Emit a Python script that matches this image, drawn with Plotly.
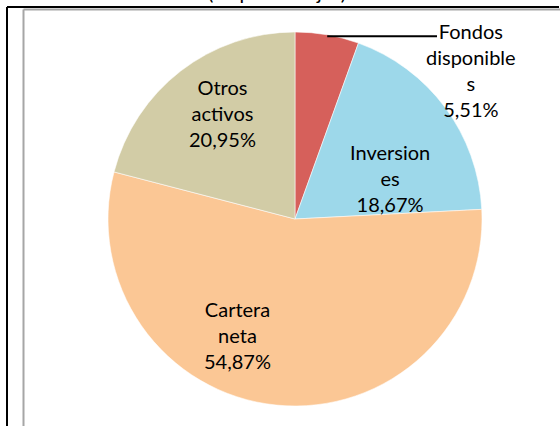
#!/usr/bin/env python3
"""Pie chart of asset composition (en porcentajes), Excel-style look"""

import math
import plotly.graph_objects as go

# Data
labels = ['Fondos disponibles', 'Inversiones', 'Cartera neta', 'Otros activos']
values = [5.51, 18.67, 54.87, 20.95]
# Labels as they wrap in the original chart
label_lines = ['Fondos<br>disponible<br>s', 'Inversion<br>es', 'Cartera<br>neta', 'Otros<br>activos']

colors = ['#D6605B', '#9DD8EA', '#FBC795', '#D2CCA6']

W, H = 560, 426
FONT = 'Lato'

# pie geometry in pixels (centre and radius)
cx, cy, r = 295, 219, 187
# label centres in pixels
label_pos = [(471, 70), (390, 178), (237, 335), (222, 113)]


def px(x):
    return x / W


def py(y):
    return 1 - y / H


fig = go.Figure()
fig.add_trace(go.Pie(
    labels=labels,
    values=values,
    sort=False,
    direction='clockwise',
    rotation=0,
    textinfo='none',
    hovertemplate='%{label}: %{value:.2f}%<extra></extra>',
    marker=dict(colors=colors, line=dict(color='rgba(255,255,255,0.55)', width=1)),
    domain=dict(x=[px(cx - r), px(cx + r)], y=[py(cy + r), py(cy - r)]),
    showlegend=False,
))

# Data labels: wrapped name + value with comma decimal
annotations = []
for txt, val, (lx, ly) in zip(label_lines, values, label_pos):
    annotations.append(dict(
        x=px(lx), y=py(ly), xref='paper', yref='paper',
        text=txt + '<br>' + f'{val:.2f}'.replace('.', ',') + '%',
        showarrow=False, xanchor='center', yanchor='middle',
        font=dict(family=FONT, size=20, color='#000000'),
    ))

# Cut-off chart title at the top
annotations.append(dict(
    x=px(277), y=py(-8), xref='paper', yref='paper',
    text='(en porcentajes)', showarrow=False,
    xanchor='center', yanchor='middle',
    font=dict(family=FONT, size=20, color='#000000'),
))

# Leader line for the small slice, from the slice edge to its label
mid = values[0] / sum(values) / 2 * 2 * math.pi
ex, ey = cx + r * math.sin(mid), cy - r * math.cos(mid)
shapes = [
    dict(type='line', xref='paper', yref='paper',
         x0=px(ex), y0=py(ey + 1.5), x1=px(437), y1=py(ey + 1.5),
         line=dict(color='#000000', width=2)),
    # outer black frame (top and left)
    dict(type='line', xref='paper', yref='paper',
         x0=px(7), y0=py(7), x1=px(559), y1=py(7),
         line=dict(color='#000000', width=2)),
    dict(type='line', xref='paper', yref='paper',
         x0=px(7), y0=py(7), x1=px(7), y1=py(430),
         line=dict(color='#000000', width=2)),
    # inner grey frame
    dict(type='line', xref='paper', yref='paper',
         x0=px(23.5), y0=py(9.5), x1=px(560), y1=py(9.5),
         line=dict(color='#A6A6A6', width=2)),
    dict(type='line', xref='paper', yref='paper',
         x0=px(23.5), y0=py(9.5), x1=px(23.5), y1=py(430),
         line=dict(color='#A6A6A6', width=2)),
]

fig.update_layout(
    width=W, height=H,
    margin=dict(l=0, r=0, t=0, b=0),
    paper_bgcolor='#FFFFFF',
    plot_bgcolor='#FFFFFF',
    annotations=annotations,
    shapes=shapes,
    font=dict(family=FONT),
)

# drop the browser's default body margin so the figure sits at the page corner
fig.write_html('out.html',
               config={'displayModeBar': False},
               post_script="document.body.style.margin='0px';")
